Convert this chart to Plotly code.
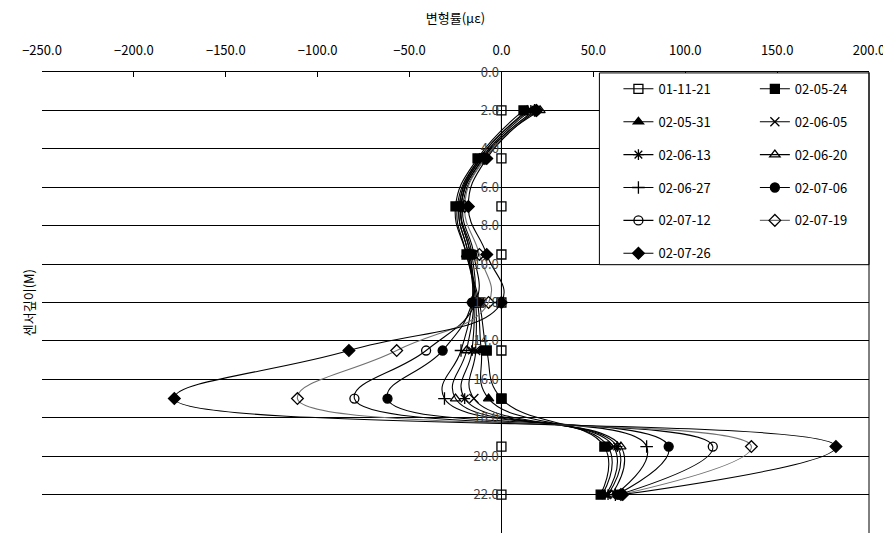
import plotly.graph_objects as go

# Sensor depths (M)
depths = [2.0, 4.5, 7.0, 9.5, 12.0, 14.5, 17.0, 19.5, 22.0]

# Strain readings (micro strain) per measurement date
s_011121 = [0, 0, 0, 0, 0, 0, 0, 0, 0]
s_020524 = [12, -13, -25, -19, -12, -8, 0, 56, 54]
s_020531 = [14, -12, -24, -19, -13, -11, -7, 58, 55]
s_020605 = [15, -12, -23, -18, -14, -14, -15, 61, 57]
s_020613 = [16, -11, -23, -18, -15, -16, -20, 63, 58]
s_020620 = [21, -11, -22, -17, -15, -19, -25, 65, 60]
s_020627 = [18, -10, -22, -17, -16, -22, -31, 79, 62]
s_020706 = [18, -10, -22, -16, -16, -32, -62, 91, 63]
s_020712 = [19, -9, -21, -15, -14, -41, -80, 115, 64]
s_020719 = [19, -9, -20, -12, -7, -57, -111, 136, 65]
s_020726 = [19, -8, -18, -8, 0, -83, -178, 182, 66]

dates = ['01-11-21', '02-05-24', '02-05-31', '02-06-05', '02-06-13', '02-06-20',
         '02-06-27', '02-07-06', '02-07-12', '02-07-19', '02-07-26']
series = [s_011121, s_020524, s_020531, s_020605, s_020613, s_020620,
          s_020627, s_020706, s_020712, s_020719, s_020726]
symbols = ['square-open', 'square', 'triangle-up', 'x-thin-open', 'asterisk-open',
           'triangle-up-open', 'cross-thin-open', 'circle', 'circle-open',
           'diamond-open', 'diamond']

FONT = 'Noto Sans CJK KR'


def build_figure():
    """
    Depth profile of strain for each measurement date, smoothed lines with markers.
    """
    fig = go.Figure()

    for i, (name, vals, sym) in enumerate(zip(dates, series, symbols)):
        color = '#707070' if name == '02-07-19' else 'black'
        # two legend columns: even items left, odd items right
        legend = 'legend' if i % 2 == 0 else 'legend2'
        fig.add_trace(go.Scatter(
            x=vals, y=depths, name=name,
            mode='lines+markers',
            line=dict(color=color, width=1.1, shape='spline', smoothing=1.3),
            marker=dict(symbol=sym, size=9, color='black',
                        line=dict(color='black', width=1.3)),
            legend=legend, legendgroup=name,
        ))

    # white box behind the two legend columns
    fig.add_shape(type='rect', xref='paper', yref='paper',
                  x0=0.674, x1=1.0, y0=0.582, y1=0.998,
                  fillcolor='white', line=dict(color='black', width=1), layer='above')
    # right border of the plot area
    fig.add_shape(type='line', xref='paper', yref='paper',
                  x0=1, x1=1, y0=0, y1=1, line=dict(color='black', width=1))

    legend_style = dict(
        bgcolor='rgba(0,0,0,0)', borderwidth=0, yanchor='top', y=0.996,
        tracegroupgap=13, font=dict(family=FONT, size=13, color='black'),
    )

    # page body adds an 8px offset, so the figure is 8px smaller than the window
    fig.update_layout(
        width=883, height=528,
        margin=dict(l=34, r=22, t=64, b=3, autoexpand=False),
        plot_bgcolor='white', paper_bgcolor='white',
        font=dict(family=FONT, size=13, color='black'),
        showlegend=True,
        legend=dict(x=0.697, xanchor='left', **legend_style),
        legend2=dict(x=0.862, xanchor='left', **legend_style),
        xaxis=dict(
            range=[-250, 200], dtick=50, tickformat='.1f', side='top',
            showgrid=False, zeroline=False, showline=True, linecolor='black',
            ticks='inside', ticklen=5, tickcolor='black', ticklabelstandoff=11,
            automargin=False,
            title=dict(text='변형률(με)', standoff=14, font=dict(size=13)),
        ),
        yaxis=dict(
            range=[24, 0], dtick=2, tickformat='.1f',
            anchor='free', position=250 / 450, automargin=False,
            showgrid=True, gridcolor='black', gridwidth=1,
            zeroline=False, showline=True, linecolor='black',
            ticks='', tickfont=dict(color='#444', size=13),
        ),
        annotations=[dict(
            text='센서깊이(M)', xref='paper', yref='paper', x=-0.03, y=0.5,
            textangle=-90, showarrow=False, font=dict(size=13),
        )],
    )
    return fig


fig = build_figure()
fig.write_html("out.html")
